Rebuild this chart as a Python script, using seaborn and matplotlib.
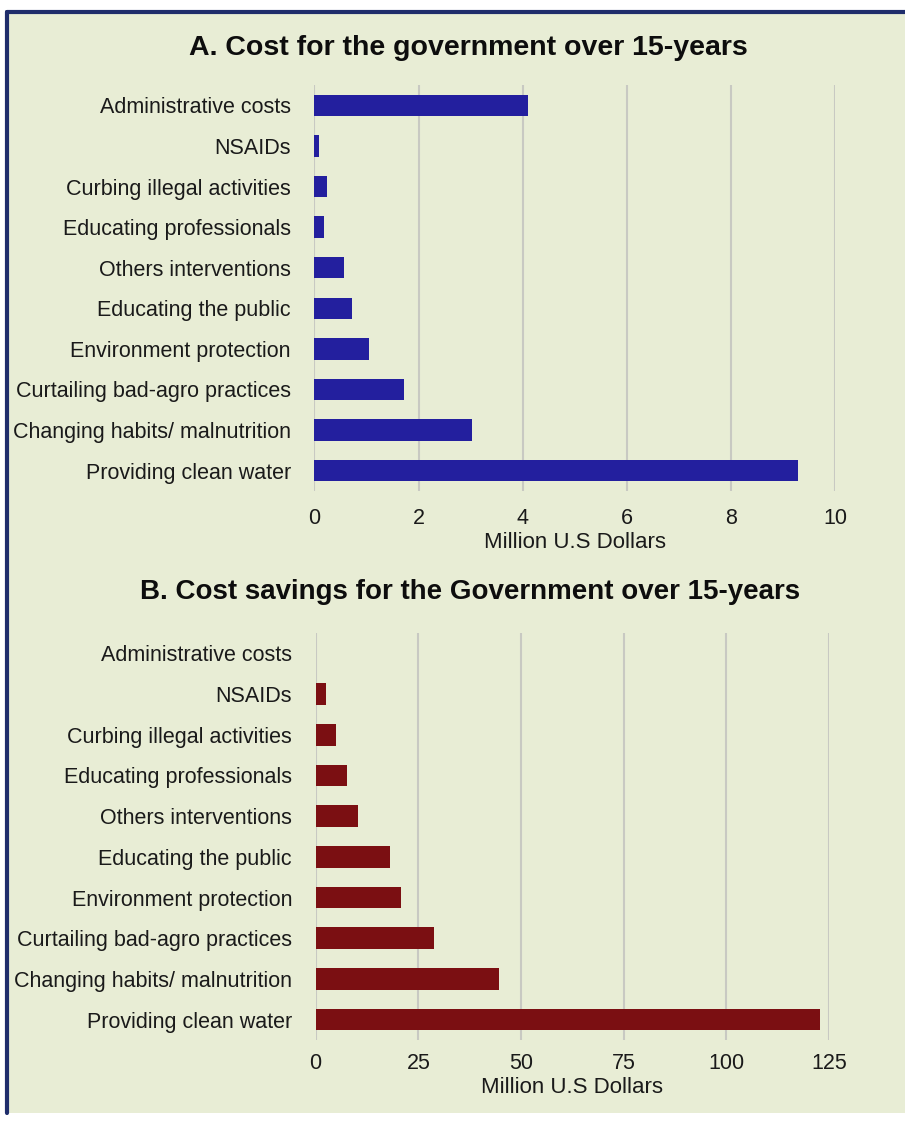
import matplotlib
matplotlib.use("Agg")
import matplotlib.pyplot as plt
import seaborn as sns
import pandas as pd
from matplotlib.patches import Rectangle
from matplotlib.lines import Line2D

categories = [
    "Administrative costs",
    "NSAIDs",
    "Curbing illegal activities",
    "Educating professionals",
    "Others interventions",
    "Educating the public",
    "Environment protection",
    "Curtailing bad-agro practices",
    "Changing habits/ malnutrition",
    "Providing clean water",
]
costs = [4.1, 0.08, 0.25, 0.18, 0.57, 0.73, 1.05, 1.72, 3.03, 9.29]
savings = [0.0, 2.4, 5.0, 7.6, 10.3, 18.2, 20.8, 28.7, 44.7, 122.7]
cost_ticks = [0, 2, 4, 6, 8, 10]
saving_ticks = [0, 25, 50, 75, 100, 125]

BG = "#e8edd5"
BLUE = "#231f9e"
RED = "#7b0f12"
BORDER = "#1f2d6b"

sns.set_theme(style="white")
plt.rcParams["font.family"] = ["Liberation Sans", "DejaVu Sans"]


def draw_panel(ax, values, ticks, color, xmax, xpad):
    df = pd.DataFrame({"category": categories, "value": values})
    sns.barplot(data=df, x="value", y="category", order=categories,
                color=color, orient="h", width=0.53, linewidth=0,
                saturation=1, ax=ax)
    ax.set_facecolor("none")
    ax.set_xlim(0, xmax)
    ax.set_ylim(len(categories) - 0.5, -0.5)
    ax.set_xticks(ticks)
    ax.set_xticklabels([str(t) for t in ticks])
    ax.grid(axis="x", color="#c8c9c2", linewidth=1.5)
    ax.grid(axis="y", visible=False)
    ax.set_axisbelow(True)
    for s in ax.spines.values():
        s.set_visible(False)
    ax.tick_params(axis="y", length=0, pad=17, labelsize=15.5, labelcolor="#1a1a1a")
    ax.tick_params(axis="x", length=0, pad=xpad, labelsize=15.5, labelcolor="#1a1a1a")
    ax.set_ylabel("")
    ax.set_xlabel("Million U.S Dollars", fontsize=16, color="#1a1a1a", labelpad=2.5)


fig = plt.figure(figsize=(9.05, 11.23), dpi=100)
fig.patch.set_facecolor("white")

# panel background and frame (top and left edges only, like the source)
x0, y0, y1 = 7 / 905, 10 / 1123, 1 - 12 / 1123
fig.patches.append(Rectangle((x0, y0), 1.0, y1 - y0, transform=fig.transFigure,
                             facecolor=BG, edgecolor="none", zorder=-10))
fig.lines.append(Line2D([x0, x0], [y0, y1], transform=fig.transFigure,
                        color=BORDER, linewidth=3, zorder=-5))
fig.lines.append(Line2D([x0, 1], [y1, y1], transform=fig.transFigure,
                        color=BORDER, linewidth=3, zorder=-5))

ax1 = fig.add_axes([0.3475, 0.5628, 0.5751, 0.3615])
draw_panel(ax1, costs, cost_ticks, BLUE, 10, 12)
fig.text(0.518, 0.957, "A. Cost for the government over 15-years",
         ha="center", va="center", fontsize=20.5, fontweight="bold", color="#0d0d0d")

ax2 = fig.add_axes([0.3488, 0.0739, 0.5672, 0.3624])
draw_panel(ax2, savings, saving_ticks, RED, 125, 9)
fig.text(0.519, 0.4728, "B. Cost savings for the Government over 15-years",
         ha="center", va="center", fontsize=20, fontweight="bold", color="#0d0d0d")

fig.savefig("out.png", dpi=100, facecolor=fig.get_facecolor())
